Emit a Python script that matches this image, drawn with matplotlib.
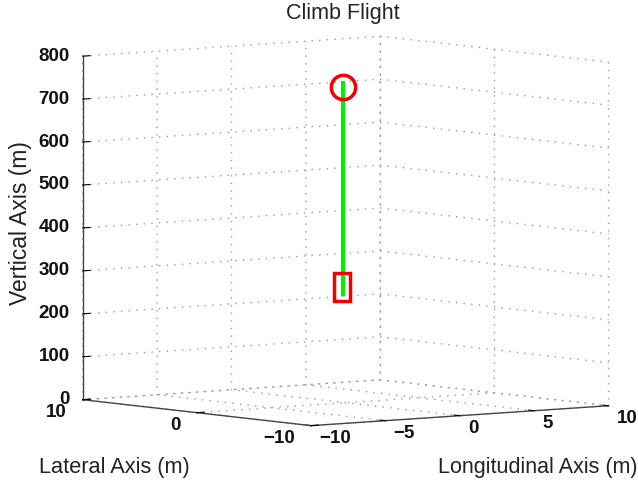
import matplotlib
matplotlib.use("Agg")
import matplotlib.pyplot as plt
from matplotlib.markers import MarkerStyle
from matplotlib.transforms import Affine2D
from mpl_toolkits.mplot3d import proj3d

plt.rcParams['font.family'] = ['Liberation Sans', 'DejaVu Sans']

# flight path
path_x = [0, 0]
path_y = [0.2, 0.2]
path_z = [247, 749]

# start / end markers
start_x, start_y, start_z = [0], [0.3], [269]
end_x, end_y, end_z = [0], [0.2], [735]

x_ticks = [-10, -5, 0, 5, 10]
y_ticks = [-10, 0, 10]
z_ticks = [0, 100, 200, 300, 400, 500, 600, 700, 800]
x_labels = ['\u221210', '\u22125', '0', '5', '10']
y_labels = ['\u221210', '0', '10']
z_labels = ['0', '100', '200', '300', '400', '500', '600', '700', '800']

fig = plt.figure(figsize=(6.38, 4.8), dpi=100)
ax = fig.add_axes([-0.0094, -0.046, 1.08, 1.1], projection='3d', proj_type='ortho')
ax.view_init(elev=5, azim=-127.5)
ax.set_box_aspect((374, 374, 344), zoom=1.163)

ax.set_xlim(-10, 10, view_margin=0)
ax.set_ylim(-10, 10, view_margin=0)
ax.set_zlim(0, 800, view_margin=0)
ax.set_xticks(x_ticks)
ax.set_yticks(y_ticks)
ax.set_zticks(z_ticks)
ax.set_xticklabels([])
ax.set_yticklabels([])
ax.set_zticklabels([])

for axis in (ax.xaxis, ax.yaxis, ax.zaxis):
    axis.set_pane_color((1, 1, 1, 0))
    axis.pane.set_edgecolor((1, 1, 1, 0))
    axis.line.set_color('#444444')
    axis.line.set_linewidth(1.0)
    axis._axinfo['grid'].update(color='#999999', linewidth=1.0, linestyle=(0, (1, 4.5)))
    axis._axinfo['tick'].update(inward_factor=0.0, outward_factor=0.3)
    axis._axinfo['tick']['linewidth'] = {True: 0.8, False: 0.5}
    axis._axinfo['tick']['color'] = '#444444'
ax.zaxis.set_ticks_position('upper')

ax.plot(path_x, path_y, path_z, color='#00ee00', lw=3.0, solid_capstyle='butt')
ax.plot(start_x, start_y, start_z, ls='none', color='#f00000', mew=2.5, mfc='none', ms=20,
        marker=MarkerStyle('s', transform=Affine2D().scale(0.55, 1)))
ax.plot(end_x, end_y, end_z, ls='none', color='#f00000', mew=2.5, mfc='none', ms=17.5, marker='o')


# tick labels placed by hand, matlab style
def tick_label(x, y, z, text, dx, dy, ha):
    px, py, _ = proj3d.proj_transform(x, y, z, ax.get_proj())
    ax.annotate(text, xy=(px, py), xycoords='data', xytext=(dx, dy), textcoords='offset pixels',
                ha=ha, va='center', fontsize=13.5, fontweight='bold', color='#111111',
                annotation_clip=False)


for val, text in zip(x_ticks, x_labels):
    tick_label(val, -10, 0, text, 8, -13, 'left')
for val, text in zip(y_ticks, y_labels):
    tick_label(-10, val, 0, text, -16, -13, 'right')
for val, text in zip(z_ticks, z_labels):
    tick_label(-10, 10, val, text, -13, 0, 'right')

fig.text(343 / 638, 1 - 14 / 480, 'Climb Flight', ha='center', va='center', fontsize=15.5, color='#222222')
fig.text(21 / 638, 1 - 223 / 480, 'Vertical Axis (m)', ha='center', va='center', rotation=90,
         fontsize=16.5, color='#222222')
fig.text(39 / 638, 1 - 473 / 480, 'Lateral Axis (m)', ha='left', va='baseline', fontsize=15.7, color='#222222')
fig.text(638 / 638, 1 - 473 / 480, 'Longitudinal Axis (m)', ha='right', va='baseline', fontsize=15.5, color='#222222')

fig.savefig('out.png', dpi=100)
